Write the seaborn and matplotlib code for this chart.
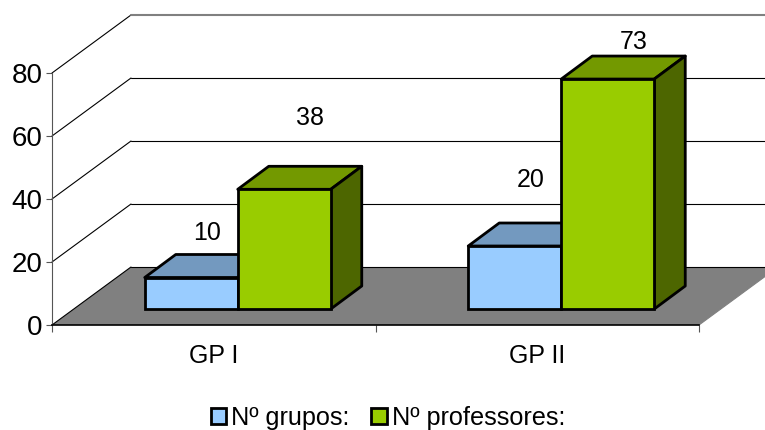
# -*- coding: utf-8 -*-
import pandas as pd
import matplotlib
matplotlib.use('Agg')
import matplotlib.pyplot as plt
import seaborn as sns
from matplotlib.patches import Polygon

# dados do grafico
grupos = ['GP I', 'GP II']
n_grupos = [10, 20]
n_professores = [38, 73]
serie_nomes = ['Nº grupos:', 'Nº professores:']
eixo_y = [0, 20, 40, 60, 80]
cores = ['#99CCFF', '#99CC00']

# deslocamento dos rotulos em relacao ao topo de cada barra (px), por serie
rotulo_offsets = [(16, 44), (16, 66), (26, 71), (26, 37)]

W, H = 765, 430
sns.set_style('white')
plt.rcParams['font.family'] = ['Liberation Sans', 'DejaVu Sans']
plt.rcParams['text.color'] = 'black'
plt.rcParams['xtick.labelcolor'] = 'black'
plt.rcParams['ytick.labelcolor'] = 'black'

df = pd.DataFrame({
    'grupo': grupos * 2,
    'serie': [serie_nomes[0]] * 2 + [serie_nomes[1]] * 2,
    'valor': n_grupos + n_professores,
})

fig = plt.figure(figsize=(W / 100, H / 100), dpi=100)


def eixo_px(x0, y_base, x1, y_topo):
    return fig.add_axes([x0 / W, 1 - y_base / H, (x1 - x0) / W, (y_base - y_topo) / H])


# plano da frente: eixos, chao e grades
ax = eixo_px(52, 325, 699, 73)
ax.set_xlim(-0.5, 1.5)
ax.set_ylim(0, 80)
ux = 647 / 2  # px por categoria
uy = 252 / 80  # px por unidade
prof_x, prof_y = 79 / ux, 58 / uy

ax.add_patch(Polygon([(-0.5, 0), (-0.5 + prof_x, prof_y), (1.5 + prof_x, prof_y), (1.5, 0)],
                     closed=True, facecolor='#808080', edgecolor='none', clip_on=False, zorder=1))
for v in eixo_y:
    ax.plot([-0.5, -0.5 + prof_x], [v, v + prof_y], color='black', lw=0.8, clip_on=False, zorder=1.5)
    cor, lw = ('#808080', 1.5) if v == eixo_y[-1] else ('black', 0.8)
    ax.plot([-0.5 + prof_x, 1.5 + prof_x], [v + prof_y, v + prof_y], color=cor, lw=lw,
            clip_on=False, zorder=1.5)
ax.plot([1.5, 1.5 + prof_x], [0, prof_y], color='#808080', lw=0.8, clip_on=False, zorder=1.5)

for lado in ['top', 'right']:
    ax.spines[lado].set_visible(False)
ax.spines['left'].set_color('#555555')
ax.spines['left'].set_linewidth(0.8)
ax.spines['bottom'].set_color('black')
ax.spines['bottom'].set_linewidth(1.2)
ax.patch.set_alpha(0)
ax.set_yticks(eixo_y)
ax.set_yticklabels([str(v) for v in eixo_y], fontsize=20)
ax.set_xticks([-0.5, 0.5, 1.5])
ax.set_xticklabels([])
ax.set_xticks([0, 1], labels=grupos, minor=True, fontsize=18)
ax.tick_params(axis='y', length=4, width=0.8, color='#555555', pad=3, left=True)
ax.tick_params(axis='x', which='major', length=5, width=0.8, color='#555555', bottom=True)
ax.tick_params(axis='x', which='minor', length=0, pad=14, bottom=False)

# barras, um pouco para dentro do chao
ax2 = eixo_px(76, 309, 723, 57)
sns.barplot(data=df, x='grupo', y='valor', hue='serie', palette=cores, saturation=1,
            width=186 / ux, gap=0, edgecolor='black', linewidth=2, ax=ax2, zorder=3)
ax2.set_xlim(-0.5, 1.5)
ax2.set_ylim(0, 80)
ax2.patch.set_alpha(0)
ax2.axis('off')

bar_dx, bar_dy = 31 / ux, 23 / uy


def escurece(cor, f):
    return tuple(c * f for c in cor[:3])


barras = [b for cont in ax2.containers for b in cont]
for b, desloc in zip(barras, rotulo_offsets):
    b.set_clip_on(False)
    x0, x1 = b.get_x(), b.get_x() + b.get_width()
    topo = b.get_height()
    fc = b.get_facecolor()
    ax2.add_patch(Polygon([(x0, topo), (x0 + bar_dx, topo + bar_dy), (x1 + bar_dx, topo + bar_dy), (x1, topo)],
                          closed=True, facecolor=escurece(fc, 0.75), edgecolor='black', lw=2,
                          joinstyle='round', clip_on=False, zorder=2))
    ax2.add_patch(Polygon([(x1, 0), (x1 + bar_dx, bar_dy), (x1 + bar_dx, topo + bar_dy), (x1, topo)],
                          closed=True, facecolor=escurece(fc, 0.5), edgecolor='black', lw=2,
                          joinstyle='round', clip_on=False, zorder=2))
    ax2.annotate(f'{topo:.0f}', xy=((x0 + x1) / 2, topo), annotation_clip=False,
                 xytext=(desloc[0] * 0.72, desloc[1] * 0.72), textcoords='offset points',
                 ha='center', va='center', fontsize=18, color='black', zorder=5)

sns.move_legend(ax2, 'center', bbox_to_anchor=(388 / W, 1 - 418 / H),
                bbox_transform=fig.transFigure, ncol=2, title=None, frameon=False,
                fontsize=18.2, handlelength=0.62, handleheight=0.62, handletextpad=0.2,
                columnspacing=0.85, borderpad=0, borderaxespad=0)

fig.savefig('out.png', dpi=100)
